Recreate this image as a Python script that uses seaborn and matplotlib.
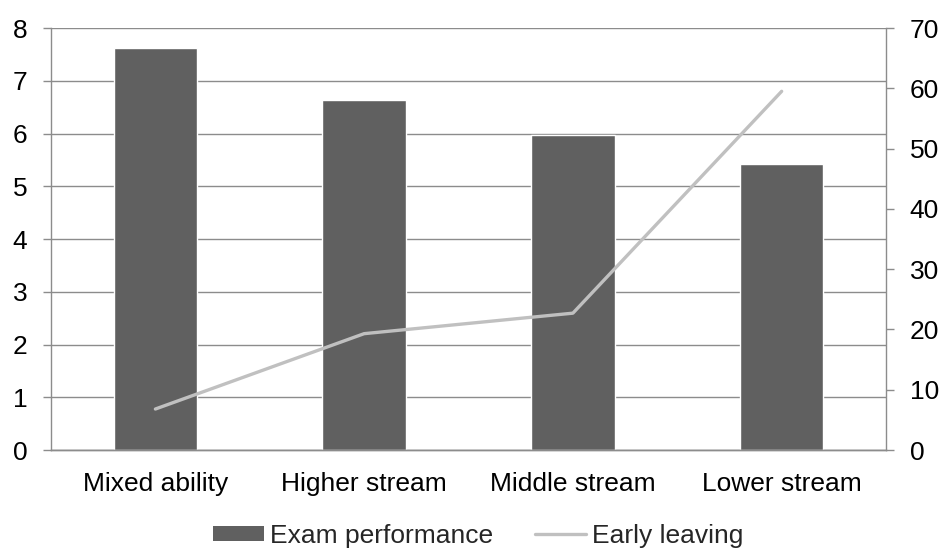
import matplotlib
matplotlib.use("Agg")
import matplotlib.pyplot as plt
import seaborn as sns
import pandas as pd
from matplotlib.lines import Line2D
from matplotlib.patches import Patch

categories = ["Mixed ability", "Higher stream", "Middle stream", "Lower stream"]
exam_performance = [7.62, 6.64, 5.97, 5.42]
early_leaving = [6.8, 19.3, 22.7, 59.5]
left_ticks = [0, 1, 2, 3, 4, 5, 6, 7, 8]
right_ticks = [0, 10, 20, 30, 40, 50, 60, 70]

sns.set_theme(style="white")
plt.rcParams["font.family"] = ["Liberation Sans", "DejaVu Sans"]

BAR = "#606060"
LINE = "#c0c0c0"
AXIS = "#8c8c8c"
FS = 19

df = pd.DataFrame({"cat": categories, "exam": exam_performance, "leave": early_leaving})

fig = plt.figure(figsize=(9.41, 5.48), dpi=100)
ax = fig.add_axes([0.0542, 0.1788, 0.8874, 0.7701])

sns.barplot(data=df, x="cat", y="exam", color=BAR, width=0.4, saturation=1,
            ax=ax, zorder=2)
ax.set_xlim(-0.5, 3.5)
ax.set_ylim(0, 8)
ax.set_yticks(left_ticks)
ax.yaxis.grid(True, color=AXIS, linewidth=1.0, zorder=0)
ax.set_axisbelow(True)
ax.set_xlabel("")
ax.set_ylabel("")

ax2 = ax.twinx()
sns.lineplot(x=list(range(len(categories))), y=early_leaving, color=LINE,
             linewidth=2.4, ax=ax2, zorder=3)
ax2.set_ylim(0, 70)
ax2.set_yticks(right_ticks)
ax2.set_xlim(-0.5, 3.5)
ax2.grid(False)

for a in (ax, ax2):
    for side in ("left", "right", "bottom"):
        a.spines[side].set_visible(True)
        a.spines[side].set_color(AXIS)
        a.spines[side].set_linewidth(1.0)
    a.spines["top"].set_visible(False)

ax.spines["right"].set_visible(False)
ax2.spines["left"].set_visible(False)

ax.set_xticks(range(len(categories)))
ax.set_xticklabels(categories)
ax.set_xticks([-0.5, 0.5, 1.5, 2.5, 3.5], minor=True)
ax.tick_params(axis="x", which="major", length=0, labelsize=FS, pad=16, colors="black")
ax.tick_params(axis="x", which="minor", length=6, width=1, color=AXIS, direction="out")
ax.tick_params(axis="y", which="major", length=6, width=1, color=AXIS,
               direction="out", labelsize=FS, pad=11, labelcolor="black", left=True)
ax2.tick_params(axis="y", which="major", length=6, width=1, color=AXIS,
                direction="out", labelsize=FS, pad=11, labelcolor="black", right=True)

handles = [Patch(facecolor=BAR, edgecolor="none", label="Exam performance"),
           Line2D([0], [0], color=LINE, linewidth=2.4, label="Early leaving")]
fig.legend(handles=handles, loc="center", bbox_to_anchor=(0.5085, 0.022), ncol=2,
           frameon=False, fontsize=FS, handlelength=1.93, handleheight=0.5,
           handletextpad=0.22, columnspacing=1.6)

fig.savefig("out.png", dpi=100)
